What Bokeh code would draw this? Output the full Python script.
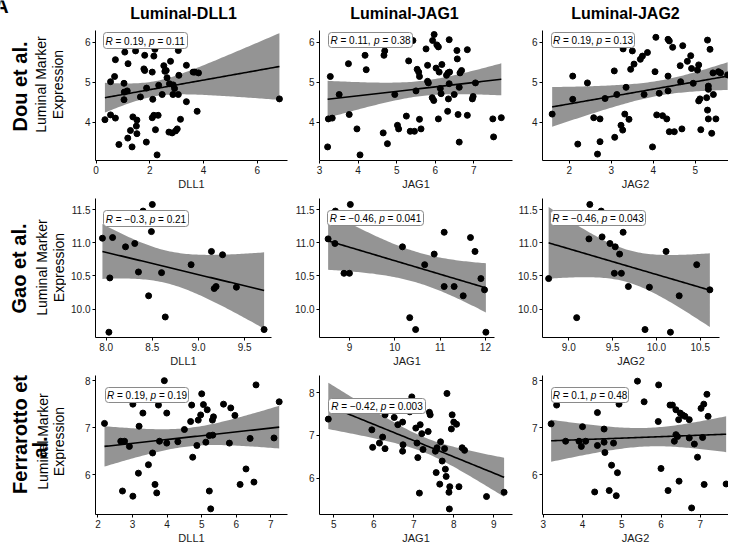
import math
import numpy as np
from bokeh.plotting import figure
from bokeh.models import Range1d, FixedTicker, NumeralTickFormatter, BoxAnnotation, Label
from bokeh.layouts import row, column
from bokeh.embed import file_html
from bokeh.resources import INLINE
from bokeh.core.properties import value

FONT = "Liberation Sans"

# ---------------- data ----------------
col_titles = ["Luminal-DLL1", "Luminal-JAG1", "Luminal-JAG2"]
row_titles = ["Dou et al.", "Gao et al.", "Ferrarotto et al."]
gene_labels = ["DLL1", "JAG1", "JAG2"]

dou_dll1_x = [0.33, 0.54, 0.54, 0.72, 0.69, 0.72, 0.85, 1.07, 1.04, 1.05, 1.04, 1.16, 1.19, 1.18, 1.28, 1.34,
              1.37, 1.47, 1.50, 1.52, 1.52, 1.65, 1.78, 1.81, 1.81, 1.87, 1.88, 2.19, 2.09, 2.09, 2.11, 2.15,
              2.15, 2.21, 2.27, 2.31, 2.33, 2.46, 2.52, 2.56, 2.61, 2.64, 2.71, 2.73, 2.77, 2.83, 2.86, 2.87,
              2.92, 2.96, 3.02, 3.06, 3.08, 3.06, 3.14, 3.36, 3.36, 3.61, 3.67, 3.76, 3.81, 6.82]
dou_dll1_y = [4.06, 5.01, 4.18, 5.56, 5.14, 4.10, 3.44, 5.75, 4.97, 4.75, 4.56, 4.78, 5.46, 3.60, 3.79, 3.38,
              4.13, 5.78, 3.90, 4.05, 3.71, 4.63, 5.33, 5.29, 5.67, 3.50, 4.85, 5.82, 4.11, 5.25, 4.57, 4.17,
              5.65, 3.81, 3.18, 4.17, 4.92, 4.69, 5.41, 5.27, 5.29, 5.11, 3.75, 4.96, 5.52, 3.73, 4.69, 4.93,
              4.84, 3.78, 3.83, 5.79, 5.17, 4.69, 4.07, 5.42, 4.51, 5.25, 5.25, 4.27, 5.23, 4.58]

dou_jag1_x = [3.21, 3.23, 3.28, 3.33, 3.51, 3.75, 3.77, 3.97, 4.05, 4.18, 4.21, 4.65, 4.67, 4.69, 4.76, 4.95,
              5.02, 5.05, 5.25, 5.31, 5.35, 5.42, 5.46, 5.50, 5.53, 5.57, 5.59, 5.59, 5.63, 5.76, 5.80, 5.82,
              5.80, 5.92, 5.93, 5.96, 5.97, 6.02, 6.04, 6.08, 6.08, 6.10, 6.13, 6.15, 6.17, 6.29, 6.32, 6.33,
              6.34, 6.36, 6.36, 6.37, 6.49, 6.56, 6.57, 6.59, 6.62, 6.62, 6.64, 6.68, 6.83, 6.83, 6.96, 6.98,
              7.04, 7.49, 7.51, 7.71]
dou_jag1_y = [3.38, 4.08, 5.14, 4.10, 4.69, 5.46, 4.19, 3.83, 3.18, 5.67, 5.31, 3.73, 5.67, 5.78, 3.46, 4.69,
              3.92, 3.83, 4.15, 5.53, 3.77, 6.04, 3.77, 4.78, 5.32, 5.25, 5.14, 4.07, 3.83, 5.83, 5.02, 4.98,
              5.42, 4.61, 6.04, 4.54, 6.19, 5.35, 5.93, 5.88, 4.08, 5.25, 4.84, 4.71, 5.44, 5.17, 4.27, 5.23,
              4.58, 6.06, 4.96, 5.25, 4.69, 5.79, 5.58, 4.19, 3.50, 4.87, 5.23, 5.29, 5.81, 4.17, 4.58, 4.64,
              4.98, 4.08, 3.63, 4.11]

dou_jag2_x = [1.59, 2.08, 2.08, 2.20, 2.43, 2.58, 2.73, 2.73, 2.67, 2.85, 3.07, 3.08, 3.13, 3.23, 3.27, 3.32,
              3.35, 3.28, 3.42, 3.46, 3.50, 3.54, 3.69, 3.74, 3.78, 3.86, 3.98, 4.04, 4.06, 4.08, 4.14, 4.22,
              4.32, 4.35, 4.38, 4.35, 4.35, 4.38, 4.46, 4.50, 4.64, 4.65, 4.68, 4.70, 4.81, 4.89, 4.91, 4.95,
              5.05, 5.08, 5.08, 5.11, 5.13, 5.27, 5.29, 5.29, 5.31, 5.31, 5.31, 5.35, 5.39, 5.42, 5.43, 5.49,
              5.55, 5.60, 5.77]
dou_jag2_y = [4.20, 5.15, 4.57, 3.45, 4.98, 4.11, 4.08, 3.51, 3.20, 4.59, 5.28, 3.62, 4.69, 3.92, 3.80, 4.20,
              4.87, 5.83, 4.07, 5.32, 5.78, 5.45, 5.57, 5.65, 4.69, 5.74, 3.38, 5.26, 6.12, 4.18, 4.72, 4.16,
              4.08, 6.07, 6.03, 5.15, 4.78, 3.76, 5.87, 3.76, 5.41, 5.01, 3.83, 5.91, 5.52, 5.66, 5.34, 4.97,
              5.30, 4.53, 5.43, 4.58, 3.81, 4.61, 6.05, 4.30, 4.08, 4.90, 4.82, 5.82, 3.72, 5.23, 4.69, 4.08,
              5.26, 5.23, 5.18]

gao_dll1_x = [7.96, 8.04, 8.03, 8.07, 8.21, 8.31, 8.35, 8.46, 8.49, 8.50, 8.60, 8.64, 8.92, 9.14, 9.17, 9.19,
              9.26, 9.41, 9.71, 8.40]
gao_dll1_y = [11.07, 10.47, 9.65, 11.08, 10.94, 10.99, 10.56, 10.20, 11.17, 11.58, 10.55, 9.88, 10.67, 10.87,
              10.31, 10.34, 10.82, 10.33, 9.69, 11.48]

gao_jag1_x = [8.53, 8.69, 8.68, 8.88, 9.00, 9.02, 10.17, 10.33, 10.46, 10.66, 10.87, 11.09, 11.09, 11.31, 11.51,
              11.67, 11.77, 11.90, 11.98, 12.01]
gao_jag1_y = [11.06, 11.48, 10.99, 10.54, 10.54, 11.58, 10.94, 9.87, 9.69, 10.67, 10.83, 11.16, 10.34, 10.34,
              10.20, 11.08, 10.87, 10.46, 10.29, 9.65]

gao_jag2_x = [8.77, 9.09, 9.24, 9.23, 9.37, 9.38, 9.47, 9.53, 9.52, 9.58, 9.60, 9.62, 9.68, 9.87, 9.92, 10.11,
              10.16, 10.26, 10.46, 10.61]
gao_jag2_y = [10.46, 9.87, 11.58, 11.06, 11.48, 11.09, 10.99, 10.94, 10.54, 10.83, 10.54, 11.16, 10.34, 9.69,
              10.33, 10.87, 9.65, 10.20, 10.67, 10.29]

fer_dll1_x = [2.19, 2.66, 2.77, 2.91, 2.71, 3.01, 3.01, 3.17, 3.19, 3.30, 3.46, 3.58, 3.65, 3.70, 3.75, 3.78,
              3.92, 3.99, 3.99, 4.31, 4.50, 4.68, 4.71, 4.74, 4.86, 4.90, 4.97, 5.00, 5.05, 5.12, 5.16, 5.22,
              5.22, 5.26, 5.32, 5.31, 5.34, 5.63, 5.80, 5.84, 5.96, 6.28, 6.11, 6.40, 6.57, 7.24, 7.09, 6.51]
fer_dll1_y = [7.09, 6.71, 6.71, 6.60, 5.65, 7.50, 5.54, 6.03, 7.03, 7.31, 6.21, 6.46, 5.79, 5.61, 7.48, 6.71,
              8.00, 7.31, 6.67, 6.70, 6.96, 7.13, 7.48, 6.37, 6.62, 7.16, 7.27, 7.72, 7.49, 6.69, 7.38, 6.83,
              5.65, 5.27, 6.84, 7.16, 7.23, 7.50, 6.67, 7.42, 7.26, 6.12, 5.79, 6.77, 7.91, 7.55, 6.78, 5.84]

fer_jag1_x = [4.86, 5.95, 5.97, 6.14, 6.22, 6.28, 6.28, 6.51, 6.60, 6.72, 6.73, 6.72, 6.95, 7.05, 7.08, 7.10,
              7.14, 7.16, 7.20, 7.23, 7.36, 7.39, 7.41, 7.54, 7.56, 7.58, 7.65, 7.67, 7.71, 7.77, 7.79, 7.81,
              7.83, 7.88, 7.89, 7.90, 7.94, 7.96, 8.00, 8.07, 8.13, 8.21, 8.27, 8.82, 9.26, 5.80, 6.90]
fer_jag1_y = [7.38, 7.13, 6.72, 6.82, 6.96, 6.69, 7.48, 7.42, 7.25, 7.31, 6.78, 6.63, 7.90, 7.17, 6.82, 6.48,
              5.65, 7.25, 7.04, 6.67, 7.09, 7.54, 7.48, 6.63, 6.13, 6.71, 5.86, 6.85, 6.40, 6.69, 6.21, 6.04,
              7.98, 5.67, 5.28, 5.80, 7.15, 7.48, 7.31, 7.26, 5.80, 6.71, 6.65, 5.57, 5.67, 7.72, 7.55]

fer_jag2_x = [3.20, 3.34, 3.57, 3.91, 3.97, 4.00, 4.08, 4.31, 4.38, 4.38, 4.55, 4.55, 4.57, 4.68, 4.74, 4.79,
              4.86, 4.89, 4.93, 5.40, 5.57, 5.94, 5.93, 6.00, 6.18, 6.23, 6.29, 6.34, 6.38, 6.38, 6.42, 6.45,
              6.46, 6.49, 6.55, 6.61, 6.72, 6.72, 6.78, 6.85, 6.93, 7.02, 7.06, 7.09, 7.10, 7.17, 7.20, 7.66]
fer_jag2_y = [7.08, 7.48, 6.71, 6.71, 6.60, 7.02, 6.71, 5.63, 7.32, 6.62, 6.97, 6.69, 6.47, 5.66, 6.20, 6.67,
              5.55, 6.04, 7.50, 7.99, 7.55, 7.91, 7.13, 6.13, 5.66, 7.48, 7.48, 6.71, 7.38, 6.85, 6.81, 7.17,
              5.86, 7.31, 7.27, 7.24, 7.17, 6.78, 5.29, 6.65, 6.37, 7.41, 6.79, 7.50, 5.79, 7.71, 7.24, 5.80]

# fitted regression line of each panel, read at its two ends: (x_start, y_start, x_end, y_end)
fit_dou = [(0.33, 4.61, 6.82, 5.39), (3.21, 4.57, 7.71, 5.07), (1.59, 4.38, 5.77, 5.15)]
fit_gao = [(7.96, 10.87, 9.71, 10.28), (8.53, 11.03, 12.01, 10.32), (8.77, 11.00, 10.61, 10.285)]
fit_fer = [(2.19, 6.60, 7.24, 7.01), (4.86, 7.69, 9.26, 6.02), (3.20, 6.72, 7.66, 6.86)]

cor_labels = [
    [("0.19", "0.11"), ("0.11", "0.38"), ("0.19", "0.13")],
    [("\u22120.3", "0.21"), ("\u22120.46", "0.041"), ("\u22120.46", "0.043")],
    [("0.19", "0.19"), ("\u22120.42", "0.003"), ("0.1", "0.48")],
]

x_ticks = [[[0, 2, 4, 6], [3, 4, 5, 6, 7], [2, 3, 4, 5]],
           [[8.0, 8.5, 9.0, 9.5], [9, 10, 11, 12], [9.0, 9.5, 10.0, 10.5]],
           [[2, 3, 4, 5, 6, 7], [5, 6, 7, 8, 9], [3, 4, 5, 6, 7]]]
y_ticks = [[4, 5, 6], [10.0, 10.5, 11.0, 11.5], [6, 7, 8]]

data = [[(dou_dll1_x, dou_dll1_y), (dou_jag1_x, dou_jag1_y), (dou_jag2_x, dou_jag2_y)],
        [(gao_dll1_x, gao_dll1_y), (gao_jag1_x, gao_jag1_y), (gao_jag2_x, gao_jag2_y)],
        [(fer_dll1_x, fer_dll1_y), (fer_jag1_x, fer_jag1_y), (fer_jag2_x, fer_jag2_y)]]
fits = [fit_dou, fit_gao, fit_fer]

# ---------------- layout geometry (page pixels) ----------------
PAGE_W, PAGE_H = 728, 549
COLS = [(66, 290), (290, 513), (513, PAGE_W)]
ROWS = [(30, 192), (192, 370), (370, PAGE_H)]
FRAME_X = [[(95, 287), (319, 512), (542, PAGE_W)],
           [(95, 271), (319, 494), (542, 719)],
           [(95, 287), (319, 512), (542, PAGE_W)]]
FRAME_Y = [[(30, 160)] * 3, [(198, 337)] * 3, [(375, 514)] * 3]
X_RANGES = [[(-0.02, 7.12), (3.0, 8.0), (1.36, 5.79)],
            [(7.885, 9.79), (8.34, 12.2), (8.70, 10.72)],
            [(1.93, 7.48), (4.64, 9.47), (2.98, 7.72)]]
Y_RANGES = [[(3.04, 6.29)] * 3, [(9.57, 11.67)] * 3, [(5.15, 8.11), (5.15, 8.40), (5.15, 8.11)]]
LABEL_BOX = [[(103, 187, 32, 48), (328, 412, 32, 47), (551, 634, 32, 47)],
             [(103, 188, 210, 226), (327, 423, 210, 225), (550, 645, 210, 225)],
             [(105, 188, 387, 402), (328, 425, 398, 413), (551, 628, 387, 402)]]

NB = "\u00a0"
CW = {"0": 556, "1": 556, "2": 556, "3": 556, "4": 556, "5": 556, "6": 556, "7": 556, "8": 556, "9": 556,
      ".": 278, ",": 278, NB: 278, "=": 584, "\u2212": 584, "R": 722, "p": 556}


def tw(s, size):
    return sum(CW.get(c, 556) for c in s) * size / 1000.0


def t975(df):
    z = 1.959964
    return (z + (z ** 3 + z) / (4 * df) + (5 * z ** 5 + 16 * z ** 3 + 3 * z) / (96 * df ** 2)
            + (3 * z ** 7 + 19 * z ** 5 + 17 * z ** 3 - 15 * z) / (384 * df ** 3))


def style_axis(ax):
    ax.axis_line_color = "black"
    ax.axis_line_width = 1
    ax.major_tick_line_color = "black"
    ax.major_tick_out = 3
    ax.major_tick_in = 0
    ax.minor_tick_line_color = None
    ax.major_label_text_font = FONT
    ax.major_label_text_font_size = "10px"
    ax.major_label_text_color = "#1a1a1a"
    ax.major_label_standoff = 2


def panel(r, c):
    cl, cr = COLS[c]
    ct, cb = ROWS[r]
    fl, fr = FRAME_X[r][c]
    ft, fb = FRAME_Y[r][c]
    x0, x1 = X_RANGES[r][c]
    y0, y1 = Y_RANGES[r][c]
    p = figure(width=cr - cl, height=cb - ct, x_range=Range1d(x0, x1), y_range=Range1d(y0, y1),
               output_backend="svg", toolbar_location=None, tools="",
               min_border_left=fl - cl, min_border_right=cr - fr,
               min_border_top=ft - ct, min_border_bottom=cb - fb)
    p.outline_line_color = None
    p.xgrid.visible = False
    p.ygrid.visible = False
    p.background_fill_color = "white"
    p.border_fill_color = "white"
    style_axis(p.xaxis[0])
    style_axis(p.yaxis[0])
    p.xaxis[0].ticker = FixedTicker(ticks=x_ticks[r][c])
    p.yaxis[0].ticker = FixedTicker(ticks=y_ticks[r])
    if r == 1:
        p.yaxis[0].formatter = NumeralTickFormatter(format="0.0")
        if c != 1:
            p.xaxis[0].formatter = NumeralTickFormatter(format="0.0")
    p.xaxis[0].axis_label = gene_labels[c]
    p.xaxis[0].axis_label_text_font = FONT
    p.xaxis[0].axis_label_text_font_size = "11px"
    p.xaxis[0].axis_label_text_font_style = "normal"
    p.xaxis[0].axis_label_text_color = "#1a1a1a"
    p.xaxis[0].axis_label_standoff = 1

    xs_d, ys_d = data[r][c]
    x = np.array(xs_d, float)
    y = np.array(ys_d, float)
    n = len(x)
    fxa, fya, fxb, fyb = fits[r][c]
    b = (fyb - fya) / (fxb - fxa)
    a = fya - b * fxa
    resid = y - (a + b * x)
    s = math.sqrt((resid ** 2).sum() / (n - 2))
    xm = x.mean()
    sxx = ((x - xm) ** 2).sum()
    xs = np.linspace(x.min(), x.max(), 80)
    fit = a + b * xs
    se = s * np.sqrt(1.0 / n + (xs - xm) ** 2 / sxx)
    tq = t975(n - 2)

    p.scatter(x, y, size=6, fill_color="black", line_color="black")
    p.varea(x=xs, y1=fit - tq * se, y2=fit + tq * se, fill_color="black", fill_alpha=0.42)
    p.line(xs, fit, line_color="black", line_width=1.6)

    def px2x(px):
        return x0 + (px - fl) * (x1 - x0) / (fr - fl)

    def px2y(py):
        return y1 - (py - ft) * (y1 - y0) / (fb - ft)

    bl, br, bt, bb = LABEL_BOX[r][c]
    p.add_layout(BoxAnnotation(left=px2x(bl), right=px2x(br), top=px2y(bt), bottom=px2y(bb),
                               fill_color="white", fill_alpha=1.0, line_color="#8a8a8a", line_width=1,
                               line_alpha=1.0, border_radius=3))
    rv, pv = cor_labels[r][c]
    parts = [("R", "italic"), (NB + "=" + NB + rv + "," + NB, "normal"), ("p", "italic"),
             (NB + "=" + NB + pv, "normal")]
    total = sum(tw(t, 10) for t, _ in parts)
    xpos = (bl + br) / 2.0 - total / 2.0
    ymid = (bt + bb) / 2.0 + 0.5
    for t, st in parts:
        p.add_layout(Label(x=px2x(xpos), y=px2y(ymid), text=t, text_font=FONT, text_font_size="10px",
                           text_font_style=st, text_baseline="middle", text_align="left",
                           text_color="black"))
        xpos += tw(t, 10)
    return p


def text_fig(x0, x1, y0, y1):
    p = figure(width=x1 - x0, height=y1 - y0, x_range=Range1d(x0, x1), y_range=Range1d(-y1, -y0),
               output_backend="svg", toolbar_location=None, tools="", x_axis_type=None, y_axis_type=None,
               min_border_left=0, min_border_right=0, min_border_top=0, min_border_bottom=0)
    p.outline_line_color = None
    p.background_fill_color = "white"
    p.border_fill_color = "white"
    return p


# top strip: panel letter and column titles
top = text_fig(0, PAGE_W, 0, 30)
top.text(x=[1], y=[-5], text=["A"], text_align="center", text_baseline="middle",
         text_font=value(FONT), text_font_size="20px", text_font_style="bold", text_color="black")
top.text(x=[183, 404, 625], y=[-13, -13, -13], text=col_titles, text_align="center",
         text_baseline="middle", text_font=value(FONT), text_font_size="16px",
         text_font_style="bold", text_color="black")

# left strip: row titles and y axis titles
left = text_fig(0, 66, 30, PAGE_H)
left.text(x=[19, 18.5, 19, 39], y=[-86, -268, -434, -447],
          text=[row_titles[0], row_titles[1], "Ferrarotto et", "al."],
          angle=math.pi / 2, text_align="center", text_baseline="middle",
          text_font=value(FONT), text_font_size="20px", text_font_style="bold", text_color="black")
left.text(x=[40, 57, 41.5, 58, 42.5, 58], y=[-84, -84, -267, -267, -441, -441],
          text=["Luminal Marker", "Expression"] * 3,
          angle=math.pi / 2, text_align="center", text_baseline="middle",
          text_font=value(FONT), text_font_size="14px", text_color="black")

grid_rows = [row(*[panel(r, c) for c in range(3)]) for r in range(3)]
layout = column(top, row(left, column(*grid_rows)))

open("out.html", "w").write(file_html(layout, INLINE, title="Luminal marker expression"))
